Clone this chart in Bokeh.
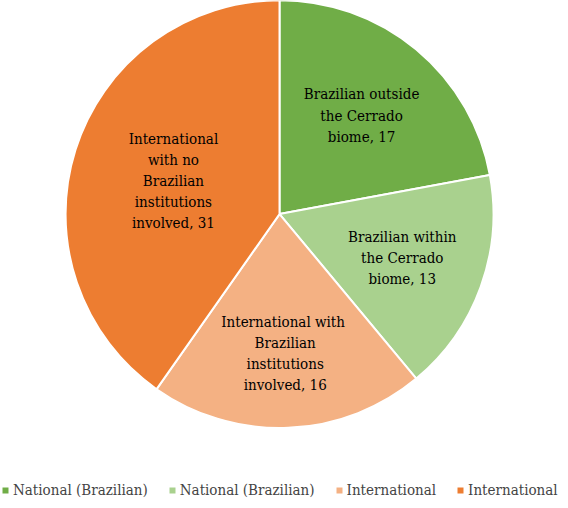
import math
from bokeh.plotting import figure
from bokeh.models import Range1d, Legend, LegendItem, ColumnDataSource
from bokeh.core.properties import value
from bokeh.embed import file_html
from bokeh.resources import INLINE

# ---- data ----
categories = [
    "Brazilian outside\nthe Cerrado\nbiome",
    "Brazilian within\nthe Cerrado\nbiome",
    "International  with\nBrazilian\ninstitutions\ninvolved",
    "International\nwith no\nBrazilian\ninstitutions\ninvolved",
]
values = [17, 13, 16, 31]
legend_labels = ["National (Brazilian)", "National (Brazilian)", "International", "International"]
colors = ["#70AD47", "#A9D18E", "#F4B183", "#ED7D31"]

# ---- layout constants ----
W, H = 560, 500
XR, YR = 568, 508
CX, CY, R = 283, 291, 217
label_radius = [0.60, 0.61, 0.655, 0.52]
FONT = "DejaVu Serif Condensed"

total = sum(values)
starts, ends, mids = [], [], []
acc = 0.0
for v in values:
    a0 = acc / total * 2 * math.pi
    acc += v
    a1 = acc / total * 2 * math.pi
    starts.append(math.pi / 2 - a0)
    ends.append(math.pi / 2 - a1)
    mids.append((a0 + a1) / 2)

labels = [f"{c}, {v}" for c, v in zip(categories, values)]
lx = [CX + f * R * math.sin(m) for f, m in zip(label_radius, mids)]
ly = [CY + f * R * math.cos(m) for f, m in zip(label_radius, mids)]

src = ColumnDataSource(dict(start=starts, end=ends, color=colors,
                            x=[CX] * len(values), y=[CY] * len(values)))
lsrc = ColumnDataSource(dict(x=lx, y=ly, text=labels))

p = figure(width=W, height=H, output_backend="svg", toolbar_location=None,
           x_range=Range1d(0, XR), y_range=Range1d(0, YR),
           x_axis_type=None, y_axis_type=None, min_border=0,
           background_fill_color="white", border_fill_color="white")
p.outline_line_color = None
p.grid.visible = False

wr = p.wedge(x="x", y="y", radius=R, start_angle="start", end_angle="end",
             direction="clock", fill_color="color", line_color="white",
             line_width=2, source=src)

p.text(x="x", y="y", text="text", source=lsrc, text_align="center",
       text_baseline="middle", text_font=value(FONT),
       text_font_size="15px", text_color="black", text_line_height=1.17)

items = [LegendItem(label=lab, renderers=[wr], index=i) for i, lab in enumerate(legend_labels)]
legend = Legend(items=items, orientation="horizontal", location=(0, 0),
                glyph_width=10, glyph_height=10, label_standoff=3, spacing=19,
                padding=0, margin=0, border_line_color=None,
                background_fill_alpha=0, label_text_font=FONT,
                label_text_font_size="15px", label_height=20)
p.add_layout(legend)

open("out.html", "w").write(file_html(p, INLINE))
